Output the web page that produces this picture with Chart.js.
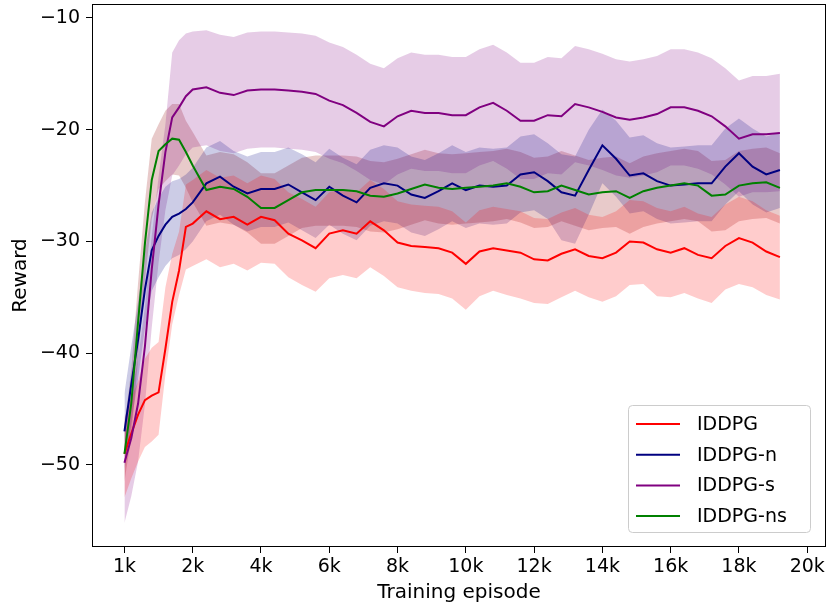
<!DOCTYPE html>
<html>
<head>
<meta charset="utf-8">
<script src="https://cdn.jsdelivr.net/npm/chart.js@4.4.1/dist/chart.umd.min.js"></script>
<style>
  html, body { margin: 0; padding: 0; background: #fff; }
</style>
</head>
<body>
<canvas id="myChart" width="828" height="608"></canvas>
<script>
// training episode, in thousands
const episodes = [0, 0.2, 0.4, 0.6, 0.8, 1.0, 1.2, 1.4, 1.6, 1.8, 2.0,
  2.4, 2.8, 3.2, 3.6, 4.0, 4.4, 4.8, 5.2, 5.6, 6.0,
  6.4, 6.8, 7.2, 7.6, 8.0, 8.4, 8.8, 9.2, 9.6, 10.0,
  10.4, 10.8, 11.2, 11.6, 12.0, 12.4, 12.8, 13.2, 13.6, 14.0,
  14.4, 14.8, 15.2, 15.6, 16.0, 16.4, 16.8, 17.2, 17.6, 18.0,
  18.4, 18.8, 19.2];

const seriesNames = ["IDDPG", "IDDPG-n", "IDDPG-s", "IDDPG-ns"];

const iddpgMean = [-49.0, -47.2, -45.5, -44.2, -43.8, -43.5, -39.6, -35.4, -32.6, -28.7, -28.4,
  -27.3, -28.0, -27.8, -28.5, -27.8, -28.1, -29.3, -29.9, -30.6, -29.3,
  -29.0, -29.3, -28.2, -29.0, -30.1, -30.4, -30.5, -30.6, -31.0, -32.0,
  -30.9, -30.6, -30.8, -31.0, -31.6, -31.7, -31.1, -30.7, -31.3, -31.5,
  -31.0, -30.0, -30.1, -30.7, -31.0, -30.6, -31.2, -31.5, -30.4, -29.7,
  -30.1, -30.9, -31.4];
const iddpgHi = [-46.0, -44.0, -42.5, -40.5, -39.5, -39.0, -34.1, -31.1, -29.1, -24.9, -24.5,
  -23.6, -24.3, -24.1, -24.8, -24.1, -24.4, -25.6, -26.2, -26.9, -25.6,
  -25.3, -25.6, -24.5, -25.3, -26.4, -26.7, -26.8, -26.9, -27.3, -28.3,
  -27.2, -26.9, -27.1, -27.3, -27.9, -28.0, -27.4, -27.0, -27.6, -27.8,
  -27.3, -26.3, -26.4, -27.0, -27.3, -26.9, -27.5, -27.8, -26.7, -26.0,
  -26.4, -27.2, -27.7];
const iddpgLo = [-52.9, -51.2, -49.7, -48.4, -47.9, -47.3, -41.9, -37.4, -34.8, -32.5, -32.2,
  -31.6, -32.3, -32.0, -32.6, -31.9, -32.0, -33.2, -33.9, -34.5, -33.3,
  -33.0, -33.3, -32.3, -33.1, -34.1, -34.4, -34.6, -34.7, -35.1, -36.1,
  -34.9, -34.4, -34.8, -35.1, -35.5, -35.6, -35.0, -34.4, -35.0, -35.4,
  -34.9, -33.9, -33.8, -34.9, -35.0, -34.6, -35.1, -35.5, -34.3, -33.8,
  -34.1, -34.8, -35.2];

const iddpgNMean = [-47.0, -42.8, -38.8, -34.3, -30.8, -29.5, -28.5, -27.8, -27.5, -27.1, -26.5,
  -24.8, -24.2, -25.1, -25.7, -25.3, -25.3, -24.9, -25.6, -26.3, -25.1,
  -25.9, -26.5, -25.2, -24.8, -25.0, -25.8, -26.1, -25.5, -24.8, -25.4,
  -25.0, -25.1, -25.0, -24.0, -23.8, -24.6, -25.6, -25.9, -23.6, -21.4,
  -22.6, -24.1, -23.9, -24.6, -25.0, -24.9, -24.8, -24.8, -23.3, -22.1,
  -23.3, -24.0, -23.6];
const iddpgNHi = [-43.6, -39.4, -35.4, -30.9, -27.4, -26.1, -25.1, -24.6, -24.4, -24.0, -23.4,
  -21.6, -21.0, -21.9, -22.4, -22.0, -22.0, -21.6, -22.2, -22.9, -21.7,
  -22.5, -23.1, -21.8, -21.4, -21.6, -22.4, -22.7, -22.1, -21.4, -22.0,
  -21.6, -21.7, -21.6, -20.6, -20.4, -21.2, -22.2, -22.4, -20.0, -18.2,
  -19.2, -20.7, -20.5, -21.2, -21.6, -21.5, -21.4, -21.4, -19.9, -19.0,
  -19.9, -20.6, -20.2];
const iddpgNLo = [-50.5, -46.3, -42.3, -37.8, -34.4, -33.2, -32.2, -31.5, -31.2, -30.7, -30.0,
  -28.2, -27.6, -28.5, -29.1, -28.7, -28.7, -28.3, -29.0, -29.7, -28.5,
  -29.3, -29.9, -28.6, -28.2, -28.4, -29.2, -29.5, -28.9, -28.2, -28.8,
  -28.4, -28.5, -28.4, -27.4, -27.2, -28.0, -29.9, -30.2, -27.6, -24.8,
  -26.0, -27.5, -27.3, -28.0, -28.4, -28.3, -28.2, -28.2, -26.7, -25.5,
  -26.7, -27.4, -27.0];

const iddpgSMean = [-49.8, -47.6, -44.5, -39.4, -32.5, -26.7, -22.0, -18.9, -18.0, -17.0, -16.4,
  -16.2, -16.7, -16.9, -16.5, -16.4, -16.4, -16.5, -16.6, -16.8, -17.4,
  -17.8, -18.5, -19.3, -19.7, -18.8, -18.3, -18.5, -18.5, -18.7, -18.7,
  -18.0, -17.6, -18.3, -19.2, -19.2, -18.7, -18.8, -17.7, -18.0, -18.4,
  -18.9, -19.1, -18.9, -18.6, -18.0, -18.0, -18.3, -18.8, -19.7, -20.8,
  -20.4, -20.4, -20.3];
const iddpgSHi = [-45.8, -43.6, -40.5, -35.9, -29.5, -24.2, -19.5, -13.1, -12.0, -11.4, -11.2,
  -11.1, -11.5, -11.7, -11.3, -11.2, -11.2, -11.3, -11.4, -11.6, -12.2,
  -12.6, -13.3, -14.1, -14.5, -13.6, -13.1, -13.3, -13.3, -13.5, -13.5,
  -12.8, -12.4, -13.1, -14.0, -14.0, -13.5, -13.6, -12.5, -12.8, -13.2,
  -13.7, -13.9, -13.7, -13.4, -12.8, -12.8, -13.1, -13.6, -14.5, -15.6,
  -15.2, -15.2, -15.0];
const iddpgSLo = [-55.2, -52.8, -49.7, -44.6, -37.7, -31.9, -27.2, -24.1, -23.2, -22.2, -21.6,
  -21.4, -21.9, -22.1, -21.7, -21.6, -21.6, -21.7, -21.8, -22.0, -22.6,
  -23.0, -23.7, -24.5, -24.9, -24.0, -23.5, -23.7, -23.7, -23.9, -23.9,
  -23.2, -22.8, -23.5, -24.4, -24.4, -23.9, -24.0, -22.9, -23.2, -23.6,
  -24.1, -24.3, -24.1, -23.8, -23.2, -23.2, -23.5, -24.0, -24.9, -26.0,
  -25.6, -25.6, -25.5];

const iddpgNsMean = [-49.0, -44.5, -37.2, -30.2, -24.5, -21.9, -21.3, -20.8, -20.9, -22.0, -23.2,
  -25.4, -25.1, -25.3, -26.0, -27.0, -27.0, -26.3, -25.6, -25.4, -25.4,
  -25.4, -25.5, -25.9, -26.0, -25.7, -25.3, -24.9, -25.2, -25.3, -25.2,
  -25.1, -25.0, -24.8, -25.1, -25.6, -25.5, -25.0, -25.4, -25.8, -25.6,
  -25.5, -26.1, -25.5, -25.2, -25.0, -24.8, -25.0, -25.9, -25.8, -25.0,
  -24.8, -24.7, -25.2];
const iddpgNsHi = [-46.5, -41.5, -33.7, -26.5, -20.8, -19.5, -18.3, -17.7, -17.7, -19.2, -20.2,
  -22.3, -22.0, -22.2, -22.9, -23.9, -23.9, -23.2, -22.5, -22.3, -22.3,
  -22.3, -22.4, -22.8, -22.9, -22.6, -22.2, -21.8, -22.1, -22.2, -22.1,
  -22.0, -21.9, -21.7, -22.0, -22.5, -22.4, -21.9, -22.3, -22.7, -22.5,
  -22.4, -23.0, -22.4, -22.1, -21.9, -21.7, -21.9, -22.8, -22.7, -21.9,
  -21.7, -21.6, -22.1];
const iddpgNsLo = [-51.5, -47.5, -40.5, -33.5, -28.0, -25.3, -24.6, -24.0, -24.1, -25.2, -26.5,
  -28.6, -28.3, -28.5, -29.2, -30.2, -30.2, -29.5, -28.8, -28.6, -28.6,
  -28.6, -28.7, -29.1, -29.2, -28.9, -28.5, -28.1, -28.4, -28.5, -28.4,
  -28.3, -28.2, -28.0, -28.3, -28.8, -28.7, -28.2, -28.6, -29.0, -28.8,
  -28.7, -29.3, -28.7, -28.4, -28.2, -28.0, -28.2, -29.1, -29.0, -28.2,
  -28.0, -27.9, -28.4];

const xTickValues = [0, 2, 4, 6, 8, 10, 12, 14, 16, 18, 20];
const xTickLabels = ["1k", "2k", "4k", "6k", "8k", "10k", "12k", "14k", "16k", "18k", "20k"];
const yTickValues = [-50, -40, -30, -20, -10];

const lineColors = ["#ff0000", "#000080", "#800080", "#008000"];
const bandColors = ["rgba(255,0,0,0.2)", "rgba(0,0,128,0.2)", "rgba(128,0,128,0.2)", "rgba(165,42,42,0.25)"];

const means = [iddpgMean, iddpgNMean, iddpgSMean, iddpgNsMean];
const highs = [iddpgHi, iddpgNHi, iddpgSHi, iddpgNsHi];
const lows = [iddpgLo, iddpgNLo, iddpgSLo, iddpgNsLo];

const toPoints = arr => arr.map((v, i) => ({ x: episodes[i], y: v }));

const datasets = [];
seriesNames.forEach((name, i) => {
    datasets.push({
        label: name + " lo",
        data: toPoints(lows[i]),
        borderWidth: 0,
        pointRadius: 0,
        fill: false,
        order: 10 + i
    });
    datasets.push({
        label: name + " hi",
        data: toPoints(highs[i]),
        borderWidth: 0,
        pointRadius: 0,
        backgroundColor: bandColors[i],
        fill: "-1",
        order: 10 + i
    });
});
seriesNames.forEach((name, i) => {
    datasets.push({
        label: name,
        data: toPoints(means[i]),
        borderColor: lineColors[i],
        borderWidth: 2,
        pointRadius: 0,
        fill: false,
        tension: 0,
        order: 3 - i
    });
});

// frame around the plot and the legend box in the lower right
const frameAndLegend = {
    id: "frameAndLegend",
    afterDraw(chart) {
        const c = chart.ctx;
        const a = chart.chartArea;
        c.save();
        c.strokeStyle = "#000";
        c.lineWidth = 1;
        c.strokeRect(a.left + 0.5, a.top + 0.5, a.right - a.left - 1, a.bottom - a.top - 1);

        c.beginPath();
        c.roundRect(628.5, 405.5, 182, 127, 4);
        c.fillStyle = "rgba(255,255,255,0.8)";
        c.fill();
        c.strokeStyle = "#cccccc";
        c.stroke();

        c.font = "19px 'DejaVu Sans'";
        c.textBaseline = "middle";
        seriesNames.forEach((name, i) => {
            const y = 424 + i * 30.7;
            c.beginPath();
            c.moveTo(636, y);
            c.lineTo(680, y);
            c.strokeStyle = lineColors[i];
            c.lineWidth = 2;
            c.stroke();
            c.fillStyle = "#000";
            c.fillText(name, 697, y + 1);
        });
        c.restore();
    }
};

Chart.defaults.font.family = "'DejaVu Sans'";
Chart.defaults.color = "#000";

new Chart(document.getElementById("myChart"), {
    type: "line",
    data: { datasets },
    plugins: [frameAndLegend],
    options: {
        responsive: false,
        animation: false,
        layout: { padding: { top: 4, right: 2, left: 0, bottom: 0 } },
        plugins: {
            legend: { display: false },
            tooltip: { enabled: false },
            filler: { drawTime: "beforeDatasetsDraw" }
        },
        scales: {
            x: {
                type: "linear",
                min: -0.95,
                max: 20.55,
                afterBuildTicks: s => { s.ticks = xTickValues.map(v => ({ value: v })); },
                afterFit: s => { s.height = 61; s.paddingLeft = 0; s.paddingRight = 0; },
                ticks: {
                    callback: (v, i) => xTickLabels[i],
                    font: { size: 19 },
                    padding: 3,
                    maxRotation: 0
                },
                grid: { drawOnChartArea: false, drawTicks: true, tickLength: 6, color: "#000" },
                border: { display: false },
                title: { display: true, text: "Training episode", font: { size: 20 }, padding: { top: 0, bottom: 3 } }
            },
            y: {
                type: "linear",
                min: -57.34,
                max: -8.75,
                afterBuildTicks: s => { s.ticks = yTickValues.map(v => ({ value: v })); },
                afterFit: s => { s.width = 92; s.paddingTop = 0; s.paddingBottom = 0; },
                ticks: {
                    callback: v => "\u2212" + Math.abs(v),
                    font: { size: 19 },
                    padding: 6
                },
                grid: { drawOnChartArea: false, drawTicks: true, tickLength: 6, color: "#000" },
                border: { display: false },
                title: { display: true, text: "Reward", font: { size: 20 }, padding: { top: 9, bottom: 0 } }
            }
        }
    }
});
</script>
</body>
</html>
